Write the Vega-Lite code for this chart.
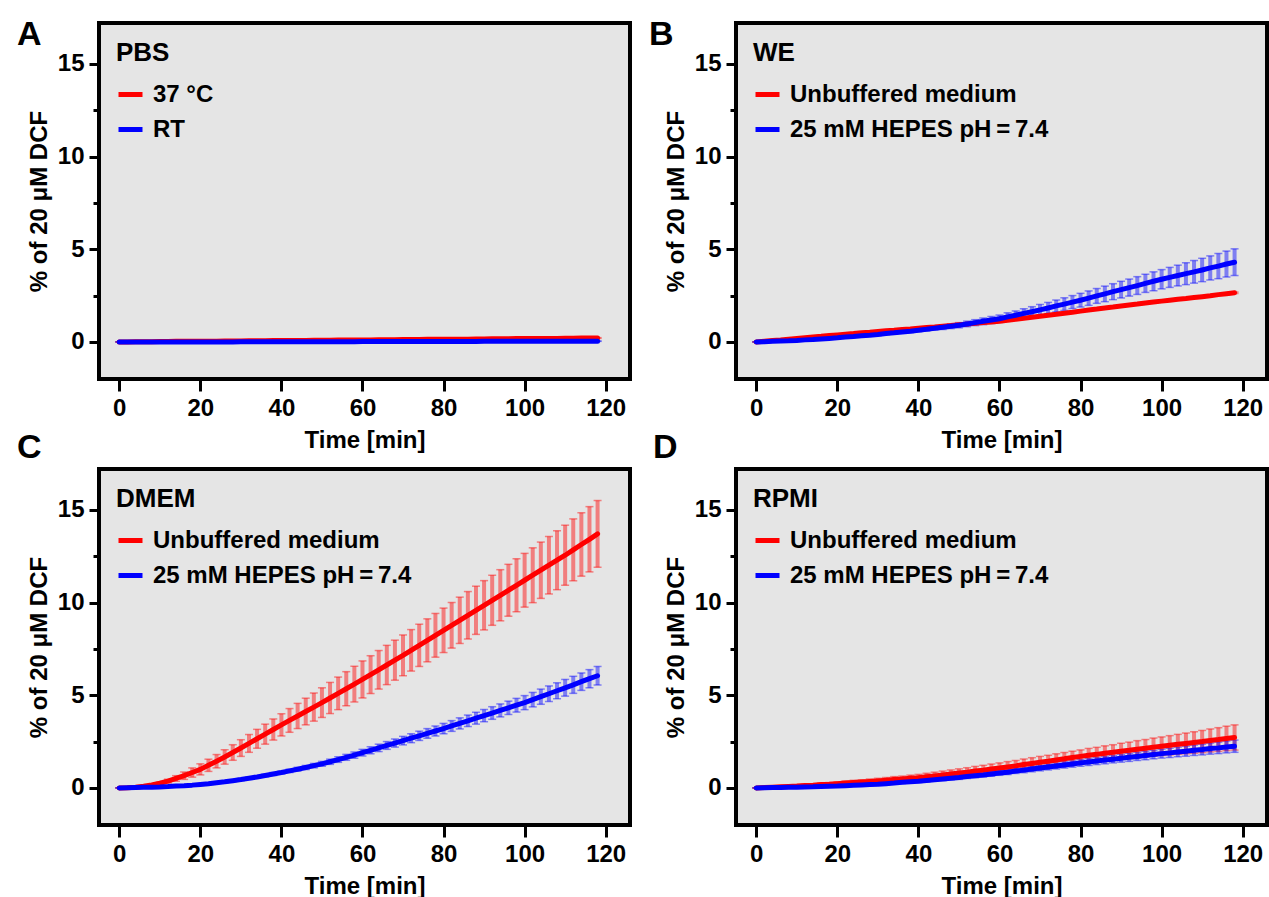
{
"$schema":"https://vega.github.io/schema/vega-lite/v6.json",
"background":"white",
"padding":{"left":15,"top":16,"right":2,"bottom":5},
"config":{
"font":"Liberation Sans",
"view":{"fill":"#e5e5e5","stroke":"black","strokeWidth":4},
"axis":{"domain":false,"grid":false,"labelFont":"Liberation Sans","labelFontSize":24,"labelFontWeight":"bold","labelColor":"black","titleFont":"Liberation Sans","titleFontSize":24,"titleFontWeight":"bold","titleColor":"black","tickColor":"black","tickWidth":3},
"legend":{"orient":"top-left","offset":17,"padding":0,"symbolType":"stroke","symbolStrokeWidth":5,"symbolSize":576,"symbolOpacity":1,"labelFont":"Liberation Sans","labelFontSize":24,"labelFontWeight":"bold","labelColor":"black","titleFont":"Liberation Sans","titleFontSize":26,"titleFontWeight":"bold","titleColor":"black","rowPadding":8,"titlePadding":14,"labelOffset":8,"labelLimit":400},
"title":{"font":"Liberation Sans","fontSize":34,"fontWeight":"bold","color":"black","anchor":"start","frame":"group","offset":0,"baseline":"alphabetic"}
},
"datasets":{
"A":[
{"t":0,"s":"a","m":0,"e":0},{"t":2,"s":"a","m":0,"e":0.01},{"t":4,"s":"a","m":0.01,"e":0.01},{"t":6,"s":"a","m":0.01,"e":0.01},{"t":8,"s":"a","m":0.01,"e":0.01},{"t":10,"s":"a","m":0.02,"e":0.01},{"t":12,"s":"a","m":0.02,"e":0.01},{"t":14,"s":"a","m":0.03,"e":0.01},{"t":16,"s":"a","m":0.03,"e":0.01},{"t":18,"s":"a","m":0.03,"e":0.01},{"t":20,"s":"a","m":0.04,"e":0.01},{"t":22,"s":"a","m":0.04,"e":0.01},{"t":24,"s":"a","m":0.04,"e":0.01},{"t":26,"s":"a","m":0.05,"e":0.01},{"t":28,"s":"a","m":0.05,"e":0.01},{"t":30,"s":"a","m":0.05,"e":0.01},{"t":32,"s":"a","m":0.06,"e":0.01},{"t":34,"s":"a","m":0.06,"e":0.01},{"t":36,"s":"a","m":0.06,"e":0.01},{"t":38,"s":"a","m":0.07,"e":0.01},{"t":40,"s":"a","m":0.07,"e":0.01},{"t":42,"s":"a","m":0.08,"e":0.01},{"t":44,"s":"a","m":0.08,"e":0.01},{"t":46,"s":"a","m":0.08,"e":0.01},{"t":48,"s":"a","m":0.09,"e":0.01},{"t":50,"s":"a","m":0.09,"e":0.01},{"t":52,"s":"a","m":0.09,"e":0.01},{"t":54,"s":"a","m":0.1,"e":0.01},{"t":56,"s":"a","m":0.1,"e":0.01},{"t":58,"s":"a","m":0.1,"e":0.01},{"t":60,"s":"a","m":0.11,"e":0.02},{"t":62,"s":"a","m":0.11,"e":0.02},{"t":64,"s":"a","m":0.12,"e":0.02},{"t":66,"s":"a","m":0.12,"e":0.02},{"t":68,"s":"a","m":0.12,"e":0.02},{"t":70,"s":"a","m":0.13,"e":0.02},{"t":72,"s":"a","m":0.13,"e":0.02},{"t":74,"s":"a","m":0.13,"e":0.02},{"t":76,"s":"a","m":0.14,"e":0.02},{"t":78,"s":"a","m":0.14,"e":0.02},{"t":80,"s":"a","m":0.14,"e":0.02},{"t":82,"s":"a","m":0.15,"e":0.02},{"t":84,"s":"a","m":0.15,"e":0.02},{"t":86,"s":"a","m":0.15,"e":0.02},{"t":88,"s":"a","m":0.16,"e":0.02},{"t":90,"s":"a","m":0.16,"e":0.02},{"t":92,"s":"a","m":0.17,"e":0.02},{"t":94,"s":"a","m":0.17,"e":0.02},{"t":96,"s":"a","m":0.17,"e":0.02},{"t":98,"s":"a","m":0.18,"e":0.02},{"t":100,"s":"a","m":0.18,"e":0.02},{"t":102,"s":"a","m":0.18,"e":0.02},{"t":104,"s":"a","m":0.19,"e":0.02},{"t":106,"s":"a","m":0.19,"e":0.02},{"t":108,"s":"a","m":0.19,"e":0.02},{"t":110,"s":"a","m":0.2,"e":0.02},{"t":112,"s":"a","m":0.2,"e":0.02},{"t":114,"s":"a","m":0.21,"e":0.02},{"t":116,"s":"a","m":0.21,"e":0.02},{"t":118,"s":"a","m":0.21,"e":0.02},
{"t":0,"s":"b","m":0,"e":0},{"t":2,"s":"b","m":0,"e":0.01},{"t":4,"s":"b","m":0,"e":0.01},{"t":6,"s":"b","m":0,"e":0.01},{"t":8,"s":"b","m":0,"e":0.01},{"t":10,"s":"b","m":0,"e":0.01},{"t":12,"s":"b","m":0,"e":0.01},{"t":14,"s":"b","m":0,"e":0.01},{"t":16,"s":"b","m":0,"e":0.01},{"t":18,"s":"b","m":0,"e":0.01},{"t":20,"s":"b","m":0,"e":0.01},{"t":22,"s":"b","m":0,"e":0.01},{"t":24,"s":"b","m":0,"e":0.01},{"t":26,"s":"b","m":0,"e":0.01},{"t":28,"s":"b","m":0,"e":0.01},{"t":30,"s":"b","m":0.01,"e":0.01},{"t":32,"s":"b","m":0.01,"e":0.01},{"t":34,"s":"b","m":0.01,"e":0.01},{"t":36,"s":"b","m":0.01,"e":0.01},{"t":38,"s":"b","m":0.01,"e":0.01},{"t":40,"s":"b","m":0.01,"e":0.01},{"t":42,"s":"b","m":0.01,"e":0.01},{"t":44,"s":"b","m":0.01,"e":0.01},{"t":46,"s":"b","m":0.01,"e":0.01},{"t":48,"s":"b","m":0.01,"e":0.01},{"t":50,"s":"b","m":0.01,"e":0.01},{"t":52,"s":"b","m":0.01,"e":0.01},{"t":54,"s":"b","m":0.01,"e":0.01},{"t":56,"s":"b","m":0.01,"e":0.01},{"t":58,"s":"b","m":0.01,"e":0.01},{"t":60,"s":"b","m":0.02,"e":0.01},{"t":62,"s":"b","m":0.02,"e":0.01},{"t":64,"s":"b","m":0.02,"e":0.01},{"t":66,"s":"b","m":0.02,"e":0.01},{"t":68,"s":"b","m":0.02,"e":0.01},{"t":70,"s":"b","m":0.02,"e":0.01},{"t":72,"s":"b","m":0.02,"e":0.01},{"t":74,"s":"b","m":0.02,"e":0.01},{"t":76,"s":"b","m":0.02,"e":0.01},{"t":78,"s":"b","m":0.02,"e":0.01},{"t":80,"s":"b","m":0.02,"e":0.01},{"t":82,"s":"b","m":0.02,"e":0.01},{"t":84,"s":"b","m":0.02,"e":0.01},{"t":86,"s":"b","m":0.02,"e":0.01},{"t":88,"s":"b","m":0.02,"e":0.01},{"t":90,"s":"b","m":0.03,"e":0.01},{"t":92,"s":"b","m":0.03,"e":0.01},{"t":94,"s":"b","m":0.03,"e":0.01},{"t":96,"s":"b","m":0.03,"e":0.01},{"t":98,"s":"b","m":0.03,"e":0.01},{"t":100,"s":"b","m":0.03,"e":0.01},{"t":102,"s":"b","m":0.03,"e":0.01},{"t":104,"s":"b","m":0.03,"e":0.01},{"t":106,"s":"b","m":0.03,"e":0.01},{"t":108,"s":"b","m":0.03,"e":0.01},{"t":110,"s":"b","m":0.04,"e":0.01},{"t":112,"s":"b","m":0.04,"e":0.01},{"t":114,"s":"b","m":0.04,"e":0.01},{"t":116,"s":"b","m":0.04,"e":0.01},{"t":118,"s":"b","m":0.04,"e":0.01}
],
"B":[
{"t":0,"s":"a","m":0,"e":0},{"t":2,"s":"a","m":0.04,"e":0.02},{"t":4,"s":"a","m":0.08,"e":0.02},{"t":6,"s":"a","m":0.11,"e":0.02},{"t":8,"s":"a","m":0.15,"e":0.02},{"t":10,"s":"a","m":0.19,"e":0.02},{"t":12,"s":"a","m":0.23,"e":0.02},{"t":14,"s":"a","m":0.27,"e":0.02},{"t":16,"s":"a","m":0.3,"e":0.02},{"t":18,"s":"a","m":0.34,"e":0.02},{"t":20,"s":"a","m":0.38,"e":0.02},{"t":22,"s":"a","m":0.42,"e":0.02},{"t":24,"s":"a","m":0.45,"e":0.02},{"t":26,"s":"a","m":0.49,"e":0.02},{"t":28,"s":"a","m":0.52,"e":0.02},{"t":30,"s":"a","m":0.56,"e":0.02},{"t":32,"s":"a","m":0.6,"e":0.02},{"t":34,"s":"a","m":0.63,"e":0.02},{"t":36,"s":"a","m":0.67,"e":0.02},{"t":38,"s":"a","m":0.7,"e":0.02},{"t":40,"s":"a","m":0.74,"e":0.03},{"t":42,"s":"a","m":0.78,"e":0.03},{"t":44,"s":"a","m":0.81,"e":0.03},{"t":46,"s":"a","m":0.85,"e":0.03},{"t":48,"s":"a","m":0.88,"e":0.03},{"t":50,"s":"a","m":0.92,"e":0.03},{"t":52,"s":"a","m":0.96,"e":0.03},{"t":54,"s":"a","m":1.0,"e":0.03},{"t":56,"s":"a","m":1.04,"e":0.03},{"t":58,"s":"a","m":1.08,"e":0.03},{"t":60,"s":"a","m":1.12,"e":0.03},{"t":62,"s":"a","m":1.17,"e":0.03},{"t":64,"s":"a","m":1.22,"e":0.03},{"t":66,"s":"a","m":1.28,"e":0.03},{"t":68,"s":"a","m":1.33,"e":0.03},{"t":70,"s":"a","m":1.38,"e":0.03},{"t":72,"s":"a","m":1.44,"e":0.03},{"t":74,"s":"a","m":1.49,"e":0.03},{"t":76,"s":"a","m":1.55,"e":0.03},{"t":78,"s":"a","m":1.6,"e":0.03},{"t":80,"s":"a","m":1.66,"e":0.04},{"t":82,"s":"a","m":1.72,"e":0.04},{"t":84,"s":"a","m":1.77,"e":0.04},{"t":86,"s":"a","m":1.83,"e":0.04},{"t":88,"s":"a","m":1.88,"e":0.04},{"t":90,"s":"a","m":1.94,"e":0.04},{"t":92,"s":"a","m":1.99,"e":0.04},{"t":94,"s":"a","m":2.04,"e":0.04},{"t":96,"s":"a","m":2.1,"e":0.04},{"t":98,"s":"a","m":2.15,"e":0.04},{"t":100,"s":"a","m":2.2,"e":0.04},{"t":102,"s":"a","m":2.25,"e":0.04},{"t":104,"s":"a","m":2.3,"e":0.04},{"t":106,"s":"a","m":2.34,"e":0.04},{"t":108,"s":"a","m":2.39,"e":0.04},{"t":110,"s":"a","m":2.44,"e":0.04},{"t":112,"s":"a","m":2.49,"e":0.04},{"t":114,"s":"a","m":2.55,"e":0.04},{"t":116,"s":"a","m":2.6,"e":0.04},{"t":118,"s":"a","m":2.65,"e":0.04},
{"t":0,"s":"b","m":0,"e":0},{"t":2,"s":"b","m":0.01,"e":0},{"t":4,"s":"b","m":0.03,"e":0.01},{"t":6,"s":"b","m":0.05,"e":0.01},{"t":8,"s":"b","m":0.06,"e":0.01},{"t":10,"s":"b","m":0.08,"e":0.02},{"t":12,"s":"b","m":0.11,"e":0.02},{"t":14,"s":"b","m":0.13,"e":0.02},{"t":16,"s":"b","m":0.16,"e":0.02},{"t":18,"s":"b","m":0.19,"e":0.03},{"t":20,"s":"b","m":0.22,"e":0.03},{"t":22,"s":"b","m":0.26,"e":0.04},{"t":24,"s":"b","m":0.29,"e":0.04},{"t":26,"s":"b","m":0.33,"e":0.05},{"t":28,"s":"b","m":0.36,"e":0.05},{"t":30,"s":"b","m":0.4,"e":0.06},{"t":32,"s":"b","m":0.45,"e":0.06},{"t":34,"s":"b","m":0.49,"e":0.07},{"t":36,"s":"b","m":0.54,"e":0.07},{"t":38,"s":"b","m":0.58,"e":0.08},{"t":40,"s":"b","m":0.63,"e":0.08},{"t":42,"s":"b","m":0.68,"e":0.09},{"t":44,"s":"b","m":0.74,"e":0.1},{"t":46,"s":"b","m":0.79,"e":0.12},{"t":48,"s":"b","m":0.85,"e":0.13},{"t":50,"s":"b","m":0.9,"e":0.14},{"t":52,"s":"b","m":0.97,"e":0.15},{"t":54,"s":"b","m":1.04,"e":0.16},{"t":56,"s":"b","m":1.11,"e":0.18},{"t":58,"s":"b","m":1.18,"e":0.19},{"t":60,"s":"b","m":1.25,"e":0.2},{"t":62,"s":"b","m":1.35,"e":0.22},{"t":64,"s":"b","m":1.44,"e":0.23},{"t":66,"s":"b","m":1.54,"e":0.25},{"t":68,"s":"b","m":1.63,"e":0.27},{"t":70,"s":"b","m":1.73,"e":0.29},{"t":72,"s":"b","m":1.83,"e":0.3},{"t":74,"s":"b","m":1.94,"e":0.32},{"t":76,"s":"b","m":2.04,"e":0.34},{"t":78,"s":"b","m":2.15,"e":0.35},{"t":80,"s":"b","m":2.25,"e":0.37},{"t":82,"s":"b","m":2.36,"e":0.39},{"t":84,"s":"b","m":2.48,"e":0.4},{"t":86,"s":"b","m":2.59,"e":0.42},{"t":88,"s":"b","m":2.71,"e":0.43},{"t":90,"s":"b","m":2.82,"e":0.45},{"t":92,"s":"b","m":2.93,"e":0.46},{"t":94,"s":"b","m":3.04,"e":0.48},{"t":96,"s":"b","m":3.16,"e":0.49},{"t":98,"s":"b","m":3.27,"e":0.51},{"t":100,"s":"b","m":3.38,"e":0.52},{"t":102,"s":"b","m":3.48,"e":0.54},{"t":104,"s":"b","m":3.58,"e":0.56},{"t":106,"s":"b","m":3.68,"e":0.59},{"t":108,"s":"b","m":3.78,"e":0.61},{"t":110,"s":"b","m":3.88,"e":0.63},{"t":112,"s":"b","m":3.99,"e":0.65},{"t":114,"s":"b","m":4.09,"e":0.68},{"t":116,"s":"b","m":4.2,"e":0.7},{"t":118,"s":"b","m":4.3,"e":0.72}
],
"C":[
{"t":0,"s":"a","m":0,"e":0},{"t":2,"s":"a","m":0.01,"e":0.01},{"t":4,"s":"a","m":0.04,"e":0.02},{"t":6,"s":"a","m":0.09,"e":0.03},{"t":8,"s":"a","m":0.16,"e":0.04},{"t":10,"s":"a","m":0.25,"e":0.05},{"t":12,"s":"a","m":0.37,"e":0.1},{"t":14,"s":"a","m":0.51,"e":0.15},{"t":16,"s":"a","m":0.66,"e":0.2},{"t":18,"s":"a","m":0.83,"e":0.25},{"t":20,"s":"a","m":1.0,"e":0.3},{"t":22,"s":"a","m":1.22,"e":0.33},{"t":24,"s":"a","m":1.44,"e":0.36},{"t":26,"s":"a","m":1.67,"e":0.39},{"t":28,"s":"a","m":1.91,"e":0.42},{"t":30,"s":"a","m":2.15,"e":0.45},{"t":32,"s":"a","m":2.4,"e":0.48},{"t":34,"s":"a","m":2.65,"e":0.51},{"t":36,"s":"a","m":2.9,"e":0.54},{"t":38,"s":"a","m":3.15,"e":0.57},{"t":40,"s":"a","m":3.4,"e":0.6},{"t":42,"s":"a","m":3.64,"e":0.64},{"t":44,"s":"a","m":3.88,"e":0.68},{"t":46,"s":"a","m":4.12,"e":0.72},{"t":48,"s":"a","m":4.36,"e":0.76},{"t":50,"s":"a","m":4.6,"e":0.8},{"t":52,"s":"a","m":4.85,"e":0.84},{"t":54,"s":"a","m":5.1,"e":0.88},{"t":56,"s":"a","m":5.35,"e":0.92},{"t":58,"s":"a","m":5.6,"e":0.96},{"t":60,"s":"a","m":5.85,"e":1.0},{"t":62,"s":"a","m":6.11,"e":1.02},{"t":64,"s":"a","m":6.37,"e":1.04},{"t":66,"s":"a","m":6.63,"e":1.06},{"t":68,"s":"a","m":6.89,"e":1.08},{"t":70,"s":"a","m":7.15,"e":1.1},{"t":72,"s":"a","m":7.42,"e":1.12},{"t":74,"s":"a","m":7.69,"e":1.14},{"t":76,"s":"a","m":7.96,"e":1.16},{"t":78,"s":"a","m":8.23,"e":1.18},{"t":80,"s":"a","m":8.5,"e":1.2},{"t":82,"s":"a","m":8.77,"e":1.23},{"t":84,"s":"a","m":9.04,"e":1.25},{"t":86,"s":"a","m":9.31,"e":1.28},{"t":88,"s":"a","m":9.58,"e":1.3},{"t":90,"s":"a","m":9.85,"e":1.33},{"t":92,"s":"a","m":10.12,"e":1.35},{"t":94,"s":"a","m":10.39,"e":1.38},{"t":96,"s":"a","m":10.66,"e":1.4},{"t":98,"s":"a","m":10.93,"e":1.43},{"t":100,"s":"a","m":11.2,"e":1.45},{"t":102,"s":"a","m":11.47,"e":1.48},{"t":104,"s":"a","m":11.74,"e":1.52},{"t":106,"s":"a","m":12.01,"e":1.55},{"t":108,"s":"a","m":12.28,"e":1.59},{"t":110,"s":"a","m":12.55,"e":1.62},{"t":112,"s":"a","m":12.84,"e":1.67},{"t":114,"s":"a","m":13.13,"e":1.71},{"t":116,"s":"a","m":13.41,"e":1.76},{"t":118,"s":"a","m":13.7,"e":1.8},
{"t":0,"s":"b","m":0,"e":0},{"t":2,"s":"b","m":0.01,"e":0},{"t":4,"s":"b","m":0.02,"e":0.01},{"t":6,"s":"b","m":0.03,"e":0.01},{"t":8,"s":"b","m":0.04,"e":0.01},{"t":10,"s":"b","m":0.05,"e":0.02},{"t":12,"s":"b","m":0.07,"e":0.02},{"t":14,"s":"b","m":0.1,"e":0.02},{"t":16,"s":"b","m":0.12,"e":0.02},{"t":18,"s":"b","m":0.15,"e":0.03},{"t":20,"s":"b","m":0.19,"e":0.03},{"t":22,"s":"b","m":0.23,"e":0.04},{"t":24,"s":"b","m":0.28,"e":0.04},{"t":26,"s":"b","m":0.33,"e":0.05},{"t":28,"s":"b","m":0.39,"e":0.05},{"t":30,"s":"b","m":0.45,"e":0.06},{"t":32,"s":"b","m":0.52,"e":0.06},{"t":34,"s":"b","m":0.59,"e":0.07},{"t":36,"s":"b","m":0.67,"e":0.07},{"t":38,"s":"b","m":0.75,"e":0.08},{"t":40,"s":"b","m":0.83,"e":0.08},{"t":42,"s":"b","m":0.92,"e":0.09},{"t":44,"s":"b","m":1.01,"e":0.1},{"t":46,"s":"b","m":1.1,"e":0.11},{"t":48,"s":"b","m":1.2,"e":0.12},{"t":50,"s":"b","m":1.3,"e":0.13},{"t":52,"s":"b","m":1.41,"e":0.14},{"t":54,"s":"b","m":1.53,"e":0.15},{"t":56,"s":"b","m":1.65,"e":0.16},{"t":58,"s":"b","m":1.77,"e":0.17},{"t":60,"s":"b","m":1.9,"e":0.18},{"t":62,"s":"b","m":2.03,"e":0.19},{"t":64,"s":"b","m":2.16,"e":0.2},{"t":66,"s":"b","m":2.29,"e":0.21},{"t":68,"s":"b","m":2.42,"e":0.22},{"t":70,"s":"b","m":2.55,"e":0.23},{"t":72,"s":"b","m":2.68,"e":0.24},{"t":74,"s":"b","m":2.81,"e":0.25},{"t":76,"s":"b","m":2.94,"e":0.26},{"t":78,"s":"b","m":3.07,"e":0.27},{"t":80,"s":"b","m":3.2,"e":0.28},{"t":82,"s":"b","m":3.34,"e":0.29},{"t":84,"s":"b","m":3.48,"e":0.3},{"t":86,"s":"b","m":3.62,"e":0.31},{"t":88,"s":"b","m":3.76,"e":0.32},{"t":90,"s":"b","m":3.9,"e":0.33},{"t":92,"s":"b","m":4.04,"e":0.34},{"t":94,"s":"b","m":4.18,"e":0.35},{"t":96,"s":"b","m":4.32,"e":0.36},{"t":98,"s":"b","m":4.46,"e":0.37},{"t":100,"s":"b","m":4.6,"e":0.38},{"t":102,"s":"b","m":4.76,"e":0.39},{"t":104,"s":"b","m":4.92,"e":0.41},{"t":106,"s":"b","m":5.08,"e":0.42},{"t":108,"s":"b","m":5.24,"e":0.43},{"t":110,"s":"b","m":5.4,"e":0.45},{"t":112,"s":"b","m":5.56,"e":0.46},{"t":114,"s":"b","m":5.73,"e":0.47},{"t":116,"s":"b","m":5.89,"e":0.49},{"t":118,"s":"b","m":6.05,"e":0.5}
],
"D":[
{"t":0,"s":"a","m":0,"e":0},{"t":2,"s":"a","m":0.02,"e":0.01},{"t":4,"s":"a","m":0.04,"e":0.02},{"t":6,"s":"a","m":0.06,"e":0.03},{"t":8,"s":"a","m":0.08,"e":0.04},{"t":10,"s":"a","m":0.1,"e":0.05},{"t":12,"s":"a","m":0.13,"e":0.06},{"t":14,"s":"a","m":0.15,"e":0.07},{"t":16,"s":"a","m":0.18,"e":0.08},{"t":18,"s":"a","m":0.2,"e":0.09},{"t":20,"s":"a","m":0.23,"e":0.1},{"t":22,"s":"a","m":0.26,"e":0.11},{"t":24,"s":"a","m":0.29,"e":0.12},{"t":26,"s":"a","m":0.32,"e":0.12},{"t":28,"s":"a","m":0.35,"e":0.13},{"t":30,"s":"a","m":0.38,"e":0.14},{"t":32,"s":"a","m":0.41,"e":0.15},{"t":34,"s":"a","m":0.45,"e":0.16},{"t":36,"s":"a","m":0.48,"e":0.16},{"t":38,"s":"a","m":0.52,"e":0.17},{"t":40,"s":"a","m":0.55,"e":0.18},{"t":42,"s":"a","m":0.6,"e":0.19},{"t":44,"s":"a","m":0.65,"e":0.2},{"t":46,"s":"a","m":0.7,"e":0.21},{"t":48,"s":"a","m":0.75,"e":0.22},{"t":50,"s":"a","m":0.8,"e":0.23},{"t":52,"s":"a","m":0.85,"e":0.24},{"t":54,"s":"a","m":0.91,"e":0.25},{"t":56,"s":"a","m":0.96,"e":0.26},{"t":58,"s":"a","m":1.02,"e":0.27},{"t":60,"s":"a","m":1.07,"e":0.28},{"t":62,"s":"a","m":1.13,"e":0.29},{"t":64,"s":"a","m":1.19,"e":0.29},{"t":66,"s":"a","m":1.26,"e":0.3},{"t":68,"s":"a","m":1.32,"e":0.31},{"t":70,"s":"a","m":1.38,"e":0.32},{"t":72,"s":"a","m":1.44,"e":0.32},{"t":74,"s":"a","m":1.51,"e":0.33},{"t":76,"s":"a","m":1.57,"e":0.34},{"t":78,"s":"a","m":1.64,"e":0.34},{"t":80,"s":"a","m":1.7,"e":0.35},{"t":82,"s":"a","m":1.76,"e":0.37},{"t":84,"s":"a","m":1.81,"e":0.38},{"t":86,"s":"a","m":1.87,"e":0.4},{"t":88,"s":"a","m":1.92,"e":0.41},{"t":90,"s":"a","m":1.98,"e":0.43},{"t":92,"s":"a","m":2.03,"e":0.44},{"t":94,"s":"a","m":2.09,"e":0.46},{"t":96,"s":"a","m":2.14,"e":0.47},{"t":98,"s":"a","m":2.2,"e":0.49},{"t":100,"s":"a","m":2.25,"e":0.5},{"t":102,"s":"a","m":2.3,"e":0.52},{"t":104,"s":"a","m":2.35,"e":0.54},{"t":106,"s":"a","m":2.4,"e":0.56},{"t":108,"s":"a","m":2.45,"e":0.58},{"t":110,"s":"a","m":2.5,"e":0.6},{"t":112,"s":"a","m":2.56,"e":0.62},{"t":114,"s":"a","m":2.61,"e":0.64},{"t":116,"s":"a","m":2.67,"e":0.66},{"t":118,"s":"a","m":2.72,"e":0.68},
{"t":0,"s":"b","m":0,"e":0},{"t":2,"s":"b","m":0.01,"e":0},{"t":4,"s":"b","m":0.02,"e":0.01},{"t":6,"s":"b","m":0.02,"e":0.01},{"t":8,"s":"b","m":0.03,"e":0.01},{"t":10,"s":"b","m":0.04,"e":0.02},{"t":12,"s":"b","m":0.05,"e":0.02},{"t":14,"s":"b","m":0.06,"e":0.02},{"t":16,"s":"b","m":0.08,"e":0.02},{"t":18,"s":"b","m":0.09,"e":0.03},{"t":20,"s":"b","m":0.1,"e":0.03},{"t":22,"s":"b","m":0.12,"e":0.03},{"t":24,"s":"b","m":0.14,"e":0.04},{"t":26,"s":"b","m":0.16,"e":0.04},{"t":28,"s":"b","m":0.18,"e":0.05},{"t":30,"s":"b","m":0.2,"e":0.05},{"t":32,"s":"b","m":0.23,"e":0.05},{"t":34,"s":"b","m":0.26,"e":0.06},{"t":36,"s":"b","m":0.3,"e":0.06},{"t":38,"s":"b","m":0.33,"e":0.07},{"t":40,"s":"b","m":0.36,"e":0.07},{"t":42,"s":"b","m":0.4,"e":0.08},{"t":44,"s":"b","m":0.44,"e":0.08},{"t":46,"s":"b","m":0.48,"e":0.09},{"t":48,"s":"b","m":0.52,"e":0.09},{"t":50,"s":"b","m":0.56,"e":0.1},{"t":52,"s":"b","m":0.61,"e":0.1},{"t":54,"s":"b","m":0.66,"e":0.11},{"t":56,"s":"b","m":0.7,"e":0.11},{"t":58,"s":"b","m":0.75,"e":0.12},{"t":60,"s":"b","m":0.8,"e":0.12},{"t":62,"s":"b","m":0.85,"e":0.13},{"t":64,"s":"b","m":0.91,"e":0.13},{"t":66,"s":"b","m":0.96,"e":0.14},{"t":68,"s":"b","m":1.02,"e":0.15},{"t":70,"s":"b","m":1.07,"e":0.15},{"t":72,"s":"b","m":1.13,"e":0.16},{"t":74,"s":"b","m":1.18,"e":0.16},{"t":76,"s":"b","m":1.24,"e":0.17},{"t":78,"s":"b","m":1.29,"e":0.17},{"t":80,"s":"b","m":1.35,"e":0.18},{"t":82,"s":"b","m":1.4,"e":0.19},{"t":84,"s":"b","m":1.45,"e":0.19},{"t":86,"s":"b","m":1.5,"e":0.2},{"t":88,"s":"b","m":1.55,"e":0.2},{"t":90,"s":"b","m":1.6,"e":0.21},{"t":92,"s":"b","m":1.65,"e":0.22},{"t":94,"s":"b","m":1.7,"e":0.22},{"t":96,"s":"b","m":1.75,"e":0.23},{"t":98,"s":"b","m":1.8,"e":0.23},{"t":100,"s":"b","m":1.85,"e":0.24},{"t":102,"s":"b","m":1.89,"e":0.25},{"t":104,"s":"b","m":1.94,"e":0.26},{"t":106,"s":"b","m":1.98,"e":0.27},{"t":108,"s":"b","m":2.03,"e":0.28},{"t":110,"s":"b","m":2.07,"e":0.29},{"t":112,"s":"b","m":2.12,"e":0.3},{"t":114,"s":"b","m":2.16,"e":0.31},{"t":116,"s":"b","m":2.21,"e":0.32},{"t":118,"s":"b","m":2.25,"e":0.33}
]
},
"columns":2,
"spacing":{"row":90,"column":106},
"bounds":"flush",
"resolve":{"scale":{"color":"independent"},"legend":{"color":"independent"}},
"concat":[
{"data":{"name":"A"},"width":531,"height":356,"title":{"text":"A","dx":-82,"dy":33},
"encoding":{
"x":{"field":"t","type":"quantitative","scale":{"domain":[-5,126],"nice":false,"zero":false},"axis":{"values":[0,20,40,60,80,100,120],"title":"Time [min]","tickSize":12,"labelPadding":5,"titlePadding":8}},
"y":{"field":"m","type":"quantitative","scale":{"domain":[-2,17.2],"nice":false},"axis":{"values":[0,2.5,5,7.5,10,12.5,15],"labelExpr":"datum.value % 5 == 0 ? datum.label : ''","tickSize":{"condition":{"test":"datum.value % 5 != 0","value":6},"value":10},"title":"% of 20 μM DCF","titlePadding":6,"labelPadding":5}},
"color":{"field":"s","type":"nominal","scale":{"domain":["a","b"],"range":["#ff0000","#0000ff"]},"legend":{"title":"PBS","labelExpr":"datum.value == 'a' ? '37 °C' : 'RT'"}}},
"layer":[
{"mark":{"type":"errorbar","ticks":{"size":8,"thickness":1.5},"thickness":4,"opacity":0.45},"encoding":{"yError":{"field":"e"}}},
{"mark":{"type":"line","strokeWidth":5,"strokeCap":"round","strokeJoin":"round"}}
]},
{"data":{"name":"B"},"width":531,"height":356,"title":{"text":"B","dx":-87,"dy":33},
"encoding":{
"x":{"field":"t","type":"quantitative","scale":{"domain":[-5,126],"nice":false,"zero":false},"axis":{"values":[0,20,40,60,80,100,120],"title":"Time [min]","tickSize":12,"labelPadding":5,"titlePadding":8}},
"y":{"field":"m","type":"quantitative","scale":{"domain":[-2,17.2],"nice":false},"axis":{"values":[0,2.5,5,7.5,10,12.5,15],"labelExpr":"datum.value % 5 == 0 ? datum.label : ''","tickSize":{"condition":{"test":"datum.value % 5 != 0","value":6},"value":10},"title":"% of 20 μM DCF","titlePadding":6,"labelPadding":5}},
"color":{"field":"s","type":"nominal","scale":{"domain":["a","b"],"range":["#ff0000","#0000ff"]},"legend":{"title":"WE","labelExpr":"datum.value == 'a' ? 'Unbuffered medium' : '25 mM HEPES pH\u2009=\u20097.4'"}}},
"layer":[
{"mark":{"type":"errorbar","ticks":{"size":8,"thickness":1.5},"thickness":4,"opacity":0.45},"encoding":{"yError":{"field":"e"}}},
{"mark":{"type":"line","strokeWidth":5,"strokeCap":"round","strokeJoin":"round"}}
]},
{"data":{"name":"C"},"width":531,"height":356,"title":{"text":"C","dx":-82,"dy":0},
"encoding":{
"x":{"field":"t","type":"quantitative","scale":{"domain":[-5,126],"nice":false,"zero":false},"axis":{"values":[0,20,40,60,80,100,120],"title":"Time [min]","tickSize":12,"labelPadding":5,"titlePadding":8}},
"y":{"field":"m","type":"quantitative","scale":{"domain":[-2,17.2],"nice":false},"axis":{"values":[0,2.5,5,7.5,10,12.5,15],"labelExpr":"datum.value % 5 == 0 ? datum.label : ''","tickSize":{"condition":{"test":"datum.value % 5 != 0","value":6},"value":10},"title":"% of 20 μM DCF","titlePadding":6,"labelPadding":5}},
"color":{"field":"s","type":"nominal","scale":{"domain":["a","b"],"range":["#ff0000","#0000ff"]},"legend":{"title":"DMEM","labelExpr":"datum.value == 'a' ? 'Unbuffered medium' : '25 mM HEPES pH\u2009=\u20097.4'"}}},
"layer":[
{"mark":{"type":"errorbar","ticks":{"size":8,"thickness":1.5},"thickness":4,"opacity":0.45},"encoding":{"yError":{"field":"e"}}},
{"mark":{"type":"line","strokeWidth":5,"strokeCap":"round","strokeJoin":"round"}}
]},
{"data":{"name":"D"},"width":531,"height":356,"title":{"text":"D","dx":-83,"dy":0},
"encoding":{
"x":{"field":"t","type":"quantitative","scale":{"domain":[-5,126],"nice":false,"zero":false},"axis":{"values":[0,20,40,60,80,100,120],"title":"Time [min]","tickSize":12,"labelPadding":5,"titlePadding":8}},
"y":{"field":"m","type":"quantitative","scale":{"domain":[-2,17.2],"nice":false},"axis":{"values":[0,2.5,5,7.5,10,12.5,15],"labelExpr":"datum.value % 5 == 0 ? datum.label : ''","tickSize":{"condition":{"test":"datum.value % 5 != 0","value":6},"value":10},"title":"% of 20 μM DCF","titlePadding":6,"labelPadding":5}},
"color":{"field":"s","type":"nominal","scale":{"domain":["a","b"],"range":["#ff0000","#0000ff"]},"legend":{"title":"RPMI","labelExpr":"datum.value == 'a' ? 'Unbuffered medium' : '25 mM HEPES pH\u2009=\u20097.4'"}}},
"layer":[
{"mark":{"type":"errorbar","ticks":{"size":8,"thickness":1.5},"thickness":4,"opacity":0.45},"encoding":{"yError":{"field":"e"}}},
{"mark":{"type":"line","strokeWidth":5,"strokeCap":"round","strokeJoin":"round"}}
]}
]
}
